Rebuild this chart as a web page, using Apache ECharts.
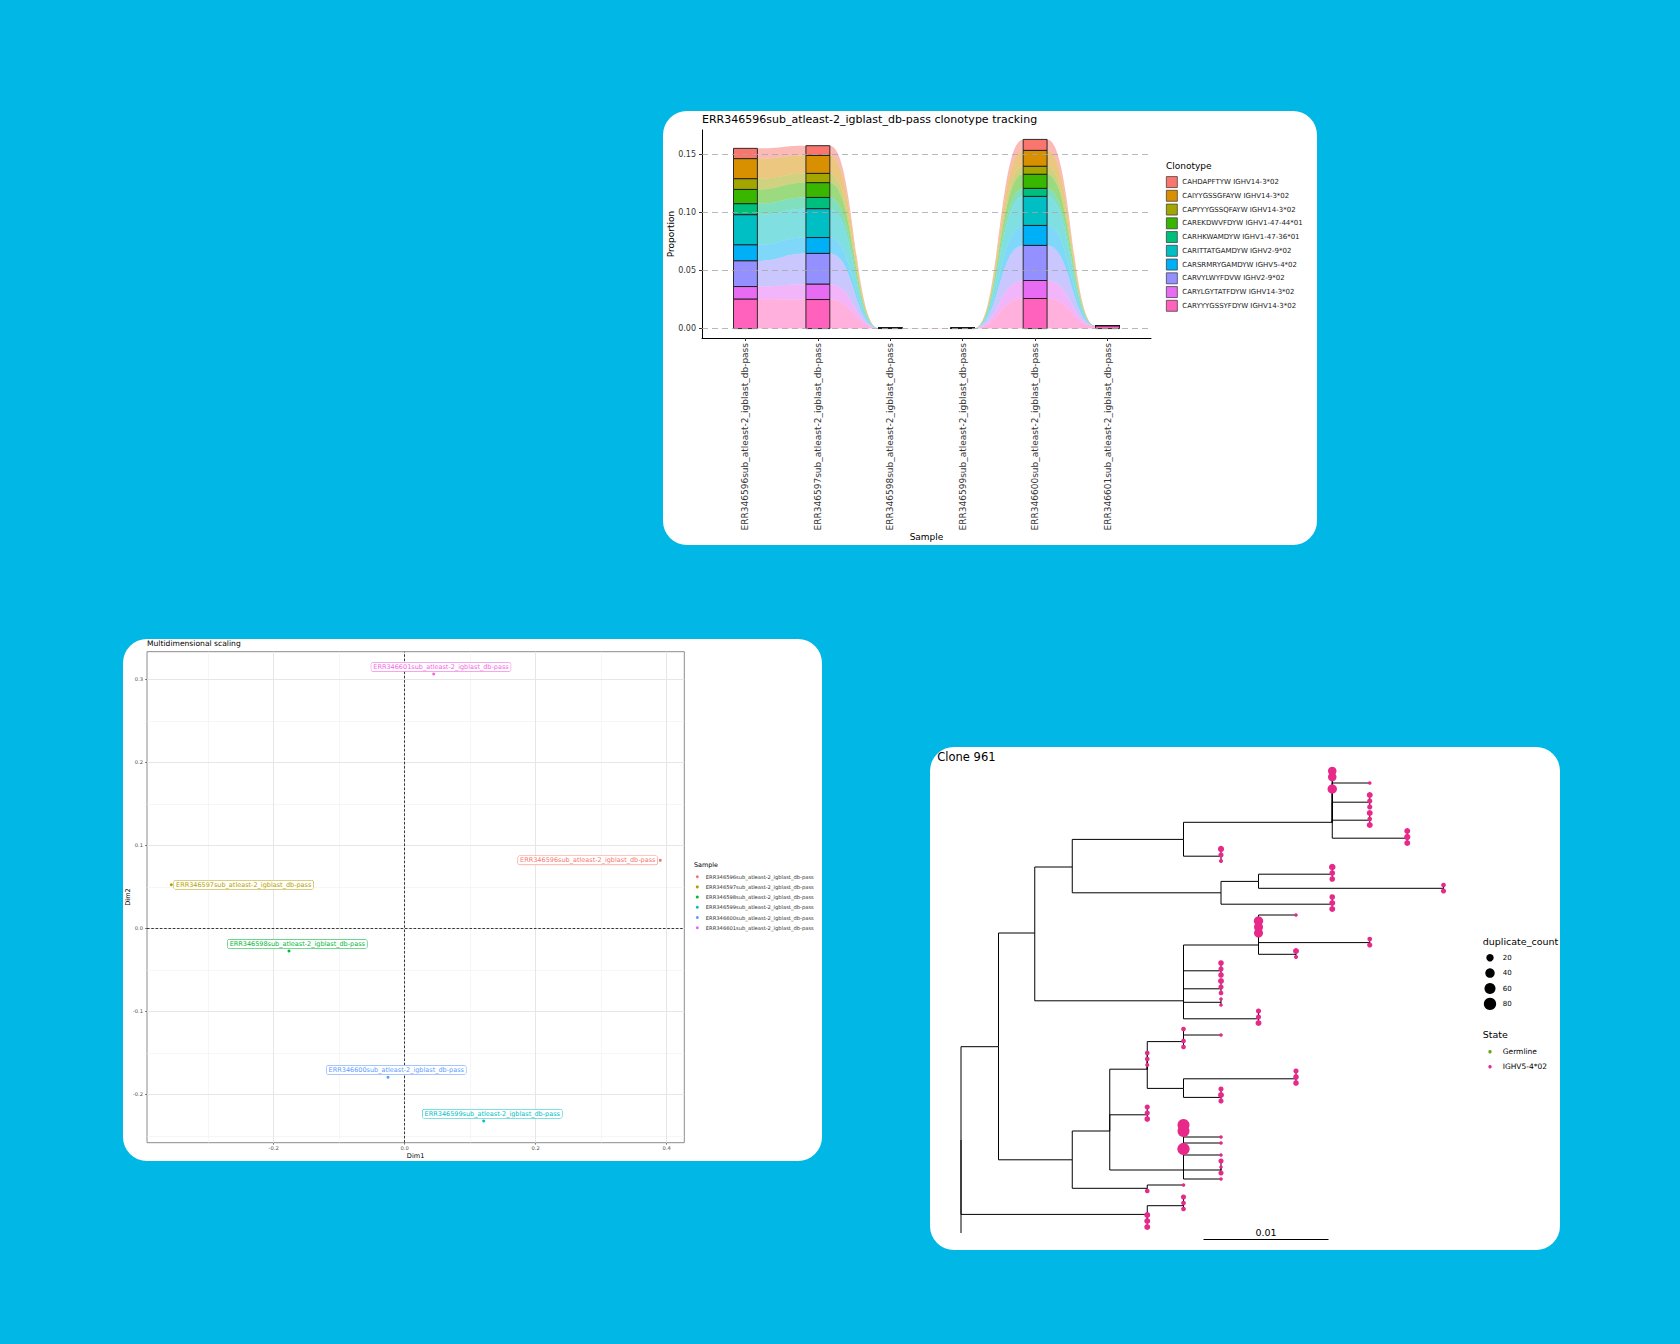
<!DOCTYPE html>
<html>
<head>
<meta charset="utf-8">
<title>Clonotype tracking, MDS and clone 961</title>
<script src="https://cdn.jsdelivr.net/npm/echarts@6/dist/echarts.min.js"></script>
<style>
  html, body { margin: 0; padding: 0; background: #00B7E5; }
  #chart { width: 1680px; height: 1344px; }
</style>
</head>
<body>
<div id="chart"></div>
<script>
// ---------- clonotype tracking ----------
const samples = [
  'ERR346596sub_atleast-2_igblast_db-pass',
  'ERR346597sub_atleast-2_igblast_db-pass',
  'ERR346598sub_atleast-2_igblast_db-pass',
  'ERR346599sub_atleast-2_igblast_db-pass',
  'ERR346600sub_atleast-2_igblast_db-pass',
  'ERR346601sub_atleast-2_igblast_db-pass'
];
const clonotypes = [
  'CAHDAPFTYW IGHV14-3*02',
  'CAIYYGSSGFAYW IGHV14-3*02',
  'CAPYYYGSSQFAYW IGHV14-3*02',
  'CAREKDWVFDYW IGHV1-47-44*01',
  'CARHKWAMDYW IGHV1-47-36*01',
  'CARITTATGAMDYW IGHV2-9*02',
  'CARSRMRYGAMDYW IGHV5-4*02',
  'CARVYLWYFDVW IGHV2-9*02',
  'CARYLGYTATFDYW IGHV14-3*02',
  'CARYYYGSSYFDYW IGHV14-3*02'
];
const cloneColors = ['#F8766D', '#D89000', '#A3A500', '#39B600', '#00BF7D',
                     '#00BFC4', '#00B0F6', '#9590FF', '#E76BF3', '#FF62BC'];
// proportion of each clonotype (row) in each sample (column)
const proportions = [
  [0.0089, 0.0084, 0, 0, 0.0095, 0],
  [0.0173, 0.0155, 0, 0, 0.0137, 0],
  [0.0092, 0.0080, 0, 0, 0.0069, 0],
  [0.0123, 0.0127, 0, 0, 0.0121, 0],
  [0.0095, 0.0097, 0, 0, 0.0069, 0],
  [0.0259, 0.0248, 0, 0, 0.0250, 0],
  [0.0138, 0.0137, 0, 0, 0.0172, 0],
  [0.0221, 0.0265, 0, 0, 0.0302, 0],
  [0.0109, 0.0132, 0, 0, 0.0155, 0],
  [0.0253, 0.0250, 0.0004, 0.0004, 0.0259, 0.0022]
];
const propTicks = [0, 0.05, 0.1, 0.15];

// ---------- multidimensional scaling ----------
const mdsDim1 = [0.3902, -0.3563, -0.1766, 0.1206, -0.0255, 0.0443];
const mdsDim2 = [0.0819, 0.0525, -0.0273, -0.2322, -0.1795, 0.3064];
const sampleColors = ['#F8766D', '#B79F00', '#00BA38', '#00BFC4', '#619CFF', '#F564E3'];
const dim1Major = [-0.2, 0, 0.2, 0.4];
const dim1Minor = [-0.3, -0.1, 0.1, 0.3];
const dim2Major = [-0.2, -0.1, 0, 0.1, 0.2, 0.3];
const dim2Minor = [-0.25, -0.15, -0.05, 0.05, 0.15, 0.25];

// ---------- clone 961 tree ----------
// internal nodes: [id, parent, distance, row]
const treeNodes = [
  ['root', null, 0, 61.5],
  ['n1', 'root', 0.0030, 45.95],
  ['n2', 'n1', 0.0059, 27.0],
  ['n3', 'n2', 0.0089, 16.0],
  ['n4', 'n3', 0.0178, 11.4],
  ['n6', 'n4', 0.0297, 8.55],
  ['nb', 'n6', 0.0327, 5.2],
  ['nc', 'n6', 0.0327, 8.2],
  ['nd', 'n6', 0.0357, 11.2],
  ['na', 'n4', 0.0208, 14.2],
  ['n5', 'n3', 0.0208, 20.3],
  ['n7', 'n5', 0.0238, 18.4],
  ['nf', 'n7', 0.0297, 17.2],
  ['ng', 'n7', 0.0386, 19.55],
  ['ne', 'n5', 0.0297, 22.2],
  ['n8', 'n2', 0.0178, 38.3],
  ['n9', 'n8', 0.0238, 29.0],
  ['np', 'n9', 0.0327, 28.6],
  ['nq', 'n9', 0.0268, 30.55],
  ['nh', 'n8', 0.0208, 33.3],
  ['ni', 'n8', 0.0208, 36.3],
  ['nj', 'n8', 0.0208, 38.55],
  ['nk', 'n8', 0.0238, 41.3],
  ['n10', 'n1', 0.0089, 64.8],
  ['n11', 'n10', 0.0119, 60.0],
  ['n12', 'n11', 0.0149, 49.7],
  ['n13', 'n12', 0.0178, 45.1],
  ['n14', 'n12', 0.0178, 52.9],
  ['nn', 'n14', 0.0268, 51.3],
  ['no', 'n14', 0.0208, 54.4],
  ['nl', 'n11', 0.0149, 57.3],
  ['n15', 'n11', 0.0178, 66.5],
  ['nm', 'n15', 0.0208, 66.5],
  ['n16', 'n10', 0.0149, 69.55],
  ['n17', 'root', 0.0149, 73.9],
  ['n18', 'n17', 0.0178, 72.45]
];
// tips: [parent, distance, row, duplicate_count]
const treeTips = [
  ['n6', 0.0297, 0, 30], ['n6', 0.0297, 1, 30], ['n6', 0.0327, 2, 1], ['n6', 0.0297, 3, 40],
  ['nb', 0.0327, 4, 10], ['nb', 0.0327, 5, 6], ['nb', 0.0327, 6, 6],
  ['nc', 0.0327, 7, 10], ['nc', 0.0327, 8, 4], ['nc', 0.0327, 9, 10],
  ['nd', 0.0357, 10, 10], ['nd', 0.0357, 11, 12], ['nd', 0.0357, 12, 10],
  ['na', 0.0208, 13, 12], ['na', 0.0208, 14, 6], ['na', 0.0208, 15, 2],
  ['nf', 0.0297, 16, 14], ['nf', 0.0297, 17, 8], ['nf', 0.0297, 18, 8],
  ['ng', 0.0386, 19, 4], ['ng', 0.0386, 20, 6],
  ['ne', 0.0297, 21, 8], ['ne', 0.0297, 22, 10], ['ne', 0.0297, 23, 10],
  ['n9', 0.0268, 24, 1], ['n9', 0.0238, 25, 40], ['n9', 0.0238, 26, 35], ['n9', 0.0238, 27, 35],
  ['np', 0.0327, 28, 4], ['np', 0.0327, 29, 6],
  ['nq', 0.0268, 30, 10], ['nq', 0.0268, 31, 2],
  ['nh', 0.0208, 32, 8], ['nh', 0.0208, 33, 6], ['nh', 0.0208, 34, 8],
  ['ni', 0.0208, 35, 10], ['ni', 0.0208, 36, 6], ['ni', 0.0208, 37, 4],
  ['nj', 0.0208, 38, 1], ['nj', 0.0208, 39, 1],
  ['nk', 0.0238, 40, 6], ['nk', 0.0238, 41, 6], ['nk', 0.0238, 42, 10],
  ['n13', 0.0178, 43, 4], ['n13', 0.0208, 44, 1], ['n13', 0.0178, 45, 4], ['n13', 0.0178, 46, 4],
  ['n12', 0.0149, 47, 4], ['n12', 0.0149, 48, 4], ['n12', 0.0149, 49, 2],
  ['nn', 0.0268, 50, 6], ['nn', 0.0268, 51, 8], ['nn', 0.0268, 52, 8],
  ['no', 0.0208, 53, 6], ['no', 0.0208, 54, 10], ['no', 0.0208, 55, 6],
  ['nl', 0.0149, 56, 6], ['nl', 0.0149, 57, 6], ['nl', 0.0149, 58, 8],
  ['n15', 0.0178, 59, 75], ['n15', 0.0178, 60, 75], ['n15', 0.0208, 61, 1], ['n15', 0.0208, 62, 1],
  ['n15', 0.0178, 63, 80], ['n15', 0.0208, 64, 1],
  ['nm', 0.0208, 65, 6], ['nm', 0.0208, 66, 1], ['nm', 0.0208, 67, 6],
  ['n15', 0.0208, 68, 1],
  ['n16', 0.0178, 69, 1], ['n16', 0.0149, 70, 4],
  ['n18', 0.0178, 71, 6], ['n18', 0.0178, 72, 4], ['n18', 0.0178, 73, 4],
  ['n17', 0.0149, 74, 10], ['n17', 0.0149, 75, 10], ['n17', 0.0149, 76, 10],
  ['root', 0, 77, null]   // germline, no point drawn
];
const sizeBreaks = [20, 40, 60, 80];
const states = ['Germline', 'IGHV5-4*02'];
const stateColors = ['#66A61E', '#E7298A'];
const scaleBarStart = 0.0194;
const scaleBarLength = 0.01;

// ---------- helpers ----------
const FONT = 'DejaVu Sans';
const BAR_HALF = 0.165;
const dupSize = c => 2.5 + 1.1 * Math.sqrt(c);

// stack clonotypes, last one at the bottom
const lower = clonotypes.map(() => []);
const upper = clonotypes.map(() => []);
for (let j = 0; j < samples.length; j++) {
  let run = 0;
  for (let c = clonotypes.length - 1; c >= 0; c--) {
    lower[c][j] = run;
    run += proportions[c][j];
    upper[c][j] = run;
  }
}

function renderBar(params, api) {
  const x = api.value(0);
  const p0 = api.coord([x - BAR_HALF, api.value(2)]);
  const p1 = api.coord([x + BAR_HALF, api.value(1)]);
  return {
    type: 'rect',
    shape: { x: p0[0], y: p0[1], width: p1[0] - p0[0], height: p1[1] - p0[1] },
    style: { fill: api.visual('color'), stroke: '#1a1a1a', lineWidth: 0.9 }
  };
}

function renderFlow(params, api) {
  const x = api.value(0);
  const a0 = api.coord([x + BAR_HALF, api.value(2)]);
  const b0 = api.coord([x + BAR_HALF, api.value(1)]);
  const a1 = api.coord([x + 1 - BAR_HALF, api.value(4)]);
  const b1 = api.coord([x + 1 - BAR_HALF, api.value(3)]);
  const mx = (a0[0] + a1[0]) / 2;
  const d = 'M' + a0[0] + ',' + a0[1] +
    ' C' + mx + ',' + a0[1] + ' ' + mx + ',' + a1[1] + ' ' + a1[0] + ',' + a1[1] +
    ' L' + b1[0] + ',' + b1[1] +
    ' C' + mx + ',' + b1[1] + ' ' + mx + ',' + b0[1] + ' ' + b0[0] + ',' + b0[1] + ' Z';
  return { type: 'path', shape: { pathData: d }, style: { fill: api.visual('color'), opacity: 0.5 } };
}

function refLines(xi, yi, items, style, z) {
  return {
    type: 'line', xAxisIndex: xi, yAxisIndex: yi, data: [], silent: true, z: z,
    markLine: { silent: true, symbol: 'none', animation: false, label: { show: false },
                lineStyle: style, data: items }
  };
}

const barSeries = clonotypes.map((name, c) => ({
  name, type: 'custom', xAxisIndex: 0, yAxisIndex: 0, z: 3,
  itemStyle: { color: cloneColors[c] },
  renderItem: renderBar,
  data: samples.map((s, j) => [j + 1, lower[c][j], upper[c][j]])
}));
const flowSeries = clonotypes.map((name, c) => ({
  name, type: 'custom', xAxisIndex: 0, yAxisIndex: 0, z: 2, silent: true,
  itemStyle: { color: cloneColors[c] },
  renderItem: renderFlow,
  data: samples.slice(0, -1).map((s, j) =>
    [j + 1, lower[c][j], upper[c][j], lower[c][j + 1], upper[c][j + 1]])
}));

const mdsLabelOffsets = [[-72.5, 0], [72.4, 0], [8.3, -7], [8.6, -7.3], [8.3, -7.3], [7.3, -7]];
const mdsSeries = samples.map((name, i) => ({
  name, type: 'scatter', xAxisIndex: 1, yAxisIndex: 1, z: 5,
  symbolSize: 3,
  itemStyle: { color: sampleColors[i], opacity: 1 },
  data: [[mdsDim1[i], mdsDim2[i]]],
  label: {
    show: true, formatter: name, position: 'inside', offset: mdsLabelOffsets[i],
    fontSize: 6.5, fontFamily: FONT, fontWeight: 'normal', color: sampleColors[i],
    backgroundColor: '#fff', borderColor: sampleColors[i], borderWidth: 0.5,
    borderRadius: 1.5, padding: [1, 2, 0.5, 2]
  }
}));

// tree branches as ggtree-style elbows
const nodeById = {};
treeNodes.forEach(n => { nodeById[n[0]] = n; });
const branchPaths = [];
treeNodes.forEach(n => {
  if (!n[1]) return;
  const p = nodeById[n[1]];
  branchPaths.push({ coords: [[p[2], p[3]], [p[2], n[3]], [n[2], n[3]]] });
});
treeTips.forEach(t => {
  const p = nodeById[t[0]];
  branchPaths.push({ coords: [[p[2], p[3]], [p[2], t[2]], [t[1], t[2]]] });
});

function txt(text, x, y, size, opts) {
  opts = opts || {};
  return {
    type: 'text', x: x, y: y, rotation: opts.rotation || 0, z: 20, silent: true,
    style: {
      text: text, x: 0, y: 0, fill: opts.color || '#000',
      fontSize: size, fontFamily: FONT, fontWeight: 'normal',
      textAlign: opts.align || 'left', textVerticalAlign: 'middle'
    }
  };
}
function panel(x, y, w, h) {
  return { type: 'rect', z: -10, silent: true,
           shape: { x: x, y: y, width: w, height: h, r: 24 }, style: { fill: '#fff' } };
}

const graphics = [
  panel(663, 111, 654, 434),
  panel(123, 639, 699, 522),
  panel(930, 747, 630, 503),
  // panel 1 texts
  txt('ERR346596sub_atleast-2_igblast_db-pass clonotype tracking', 702, 119.7, 11),
  txt('Proportion', 671, 234, 9, { rotation: Math.PI / 2, align: 'center' }),
  txt('Sample', 926.5, 537, 9, { align: 'center' }),
  txt('Clonotype', 1166, 166, 9),
  // panel 2 texts
  txt('Multidimensional scaling', 147, 643.3, 7.6),
  txt('Dim1', 415.6, 1156, 6.6, { align: 'center' }),
  txt('Dim2', 128, 897, 6.6, { rotation: Math.PI / 2, align: 'center' }),
  txt('Sample', 694, 865.3, 6.4),
  // panel 3 texts and legends
  txt('Clone 961', 937.3, 756.7, 11.5),
  txt('duplicate_count', 1482.7, 941.7, 9.5),
  txt('State', 1482.7, 1034.3, 9.5)
];
sizeBreaks.forEach((v, i) => {
  graphics.push({ type: 'circle', z: 20, silent: true,
    shape: { cx: 1490, cy: 957.7 + i * 15.4, r: dupSize(v) / 2 }, style: { fill: '#000' } });
  graphics.push(txt(String(v), 1502.7, 957.7 + i * 15.4, 7));
});
states.forEach((s, i) => {
  graphics.push({ type: 'circle', z: 20, silent: true,
    shape: { cx: 1490, cy: 1051.7 + i * 15, r: 1.7 }, style: { fill: stateColors[i] } });
  graphics.push(txt(s, 1502.7, 1051.7 + i * 15, 7.5));
});

const option = {
  backgroundColor: '#00B7E5',
  animation: false,
  textStyle: { fontFamily: FONT, fontWeight: 'normal' },
  graphic: graphics,
  legend: [
    {
      data: clonotypes, orient: 'vertical', left: 1166, top: 176.2, padding: 0,
      itemWidth: 11, itemHeight: 11, itemGap: 2.05, icon: 'rect', selectedMode: false,
      itemStyle: { borderColor: '#333', borderWidth: 0.7 },
      textStyle: { fontSize: 7, color: '#1a1a1a', fontFamily: FONT }
    },
    {
      data: samples, orient: 'vertical', left: 695.8, top: 873.7, padding: 0,
      itemWidth: 7, itemHeight: 3, itemGap: 4.2, icon: 'circle', selectedMode: false,
      textStyle: { fontSize: 5.2, lineHeight: 6, color: '#333', fontFamily: FONT }
    }
  ],
  grid: [
    { left: 702, top: 130, width: 449, height: 208 },
    { left: 147, top: 651.7, width: 537.3, height: 491, show: true,
      backgroundColor: '#fff', borderColor: '#8c8c8c', borderWidth: 1 },
    { left: 961, top: 771, width: 500, height: 462 }
  ],
  xAxis: [
    {
      gridIndex: 0, type: 'value', min: 0.4, max: 6.6,
      axisLine: { onZero: false, lineStyle: { color: '#000', width: 1 } },
      axisTick: { customValues: [1, 2, 3, 4, 5, 6], length: 3, lineStyle: { color: '#333' } },
      axisLabel: { customValues: [1, 2, 3, 4, 5, 6], formatter: v => samples[Math.round(v) - 1],
                   rotate: 90, margin: 5, fontSize: 9, color: '#333' },
      splitLine: { show: false }
    },
    {
      gridIndex: 1, type: 'value', min: -0.3934, max: 0.4269,
      axisLine: { show: false, onZero: false },
      axisTick: { customValues: dim1Major, length: 2, lineStyle: { color: '#333', width: 0.6 } },
      axisLabel: { customValues: dim1Major, formatter: v => v.toFixed(1),
                   margin: 3, fontSize: 5.2, color: '#4d4d4d' },
      splitLine: { show: false }
    },
    { gridIndex: 2, type: 'value', min: 0, max: 0.04, show: false }
  ],
  yAxis: [
    {
      gridIndex: 0, type: 'value', min: -0.0081, max: 0.171,
      axisLine: { show: true, onZero: false, lineStyle: { color: '#000', width: 1 } },
      axisTick: { show: true, customValues: propTicks, length: 3, lineStyle: { color: '#333' } },
      axisLabel: { customValues: propTicks, formatter: v => v.toFixed(2),
                   margin: 6, fontSize: 8, color: '#333' },
      splitLine: { show: false }
    },
    {
      gridIndex: 1, type: 'value', min: -0.2583, max: 0.3333,
      axisLine: { show: false, onZero: false },
      axisTick: { show: true, customValues: dim2Major, length: 2, lineStyle: { color: '#333', width: 0.6 } },
      axisLabel: { customValues: dim2Major, formatter: v => v.toFixed(1),
                   margin: 4, fontSize: 5.2, color: '#4d4d4d' },
      splitLine: { show: false }
    },
    { gridIndex: 2, type: 'value', min: 0, max: 77, inverse: true, show: false }
  ],
  series: [
    refLines(0, 0, propTicks.map(v => ({ yAxis: v })),
             { color: '#a6a6a6', width: 0.8, type: [6, 4] }, 1),
    ...barSeries,
    ...flowSeries,
    refLines(1, 1, dim1Minor.map(v => ({ xAxis: v })).concat(dim2Minor.map(v => ({ yAxis: v }))),
             { color: '#f0f0f0', width: 0.6, type: 'solid' }, 1),
    refLines(1, 1, dim1Major.map(v => ({ xAxis: v })).concat(dim2Major.map(v => ({ yAxis: v }))),
             { color: '#e6e6e6', width: 1, type: 'solid' }, 1),
    refLines(1, 1, [{ xAxis: 0 }, { yAxis: 0 }],
             { color: '#222', width: 0.9, type: [2.5, 1.8] }, 2),
    ...mdsSeries,
    {
      type: 'lines', coordinateSystem: 'cartesian2d', xAxisIndex: 2, yAxisIndex: 2,
      polyline: true, silent: true, z: 3, clip: false,
      lineStyle: { color: '#000', width: 1, opacity: 1 },
      data: branchPaths
    },
    {
      name: states[1], type: 'scatter', xAxisIndex: 2, yAxisIndex: 2, z: 4, clip: false,
      symbolSize: v => dupSize(v[2]),
      itemStyle: { color: stateColors[1], opacity: 1 },
      data: treeTips.filter(t => t[3] != null).map(t => [t[1], t[2], t[3]])
    },
    {
      type: 'lines', coordinateSystem: 'cartesian2d', xAxisIndex: 2, yAxisIndex: 2,
      silent: true, z: 3, clip: false,
      lineStyle: { color: '#000', width: 1, opacity: 1 },
      label: { show: true, position: 'middle', formatter: '0.01', fontSize: 9.5,
               color: '#000', distance: 2, fontFamily: FONT },
      data: [{ coords: [[scaleBarStart, 78], [scaleBarStart + scaleBarLength, 78]] }]
    }
  ]
};

const chart = echarts.init(document.getElementById('chart'), null,
  { renderer: 'svg', width: 1680, height: 1344 });
chart.setOption(option);
</script>
</body>
</html>
